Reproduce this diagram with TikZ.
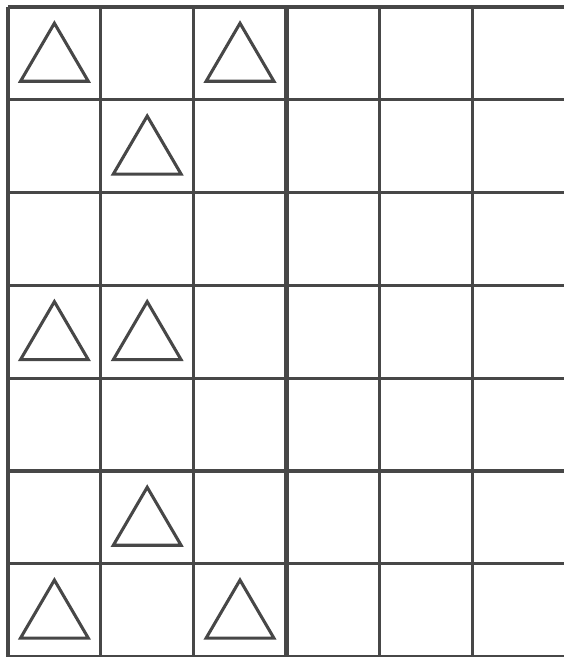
\documentclass[tikz,border=0pt]{standalone}
\usepackage{tikz}

\begin{document}
\begin{tikzpicture}[x=1.6cm,y=-1.6cm,
    gridline/.style={line width=1.5pt, black!72},
    midline/.style={line width=2.6pt, black!72},
    tri/.style={line width=1.5pt, black!72, line join=miter}]
      % frame of the page
      \useasboundingbox (-0.0862,-0.0754) rectangle (5.991,7.004);
      % rows
      \foreach \r in {0,...,7}
        \draw[gridline] (0,\r) -- (6,\r);
      % columns
      \foreach \c in {0,1,2,4,5}
        \draw[gridline] (\c,0) -- (\c,7);
      % thick middle line
      \draw[midline] (3,0) -- (3,7);
      % triangles
      \foreach \c/\r in {0/0,2/0,1/1,0/3,1/3,1/5,0/6,2/6}
        \draw[tri] (\c+0.135,\r+0.80) -- (\c+0.5,\r+0.175) -- (\c+0.865,\r+0.80) -- cycle;
    \end{tikzpicture}
\end{document}
